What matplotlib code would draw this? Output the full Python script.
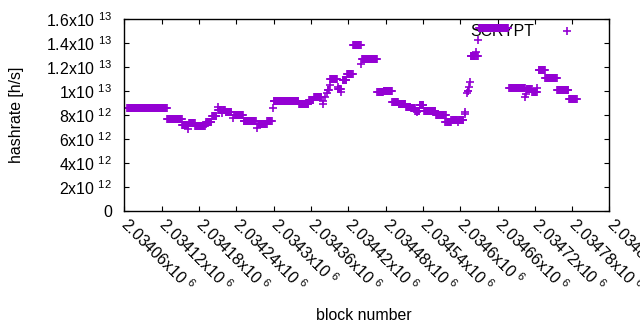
import numpy as np
import matplotlib
matplotlib.use('Agg')
import matplotlib.pyplot as plt
from matplotlib.ticker import FuncFormatter, MultipleLocator

plt.rcParams['font.family'] = ['Liberation Sans', 'DejaVu Sans']
plt.rcParams['mathtext.fontset'] = 'custom'
plt.rcParams['mathtext.rm'] = 'Liberation Sans'
plt.rcParams['mathtext.it'] = 'Liberation Sans:italic'

# runs of blocks sharing one hashrate (units of 1e12 h/s)
run_start = [2034065, 2034129, 2034153, 2034164, 2034174, 2034192, 2034201, 2034211,
             2034218, 2034223, 2034237, 2034252, 2034275, 2034290, 2034300, 2034341,
             2034357, 2034365, 2034387, 2034391, 2034405, 2034411, 2034418, 2034428,
             2034442, 2034467, 2034477, 2034491, 2034501, 2034513, 2034521, 2034528,
             2034532, 2034535, 2034542, 2034561, 2034576, 2034578, 2034586, 2034598,
             2034612, 2034617, 2034626, 2034631, 2034679, 2034707, 2034716, 2034726,
             2034737, 2034756, 2034775]
run_end = [2034128, 2034152, 2034162, 2034173, 2034189, 2034200, 2034208, 2034216,
           2034222, 2034232, 2034251, 2034271, 2034289, 2034297, 2034340, 2034356,
           2034364, 2034377, 2034389, 2034402, 2034407, 2034417, 2034427, 2034440,
           2034466, 2034476, 2034490, 2034500, 2034512, 2034520, 2034527, 2034530,
           2034534, 2034541, 2034560, 2034574, 2034577, 2034585, 2034596, 2034605,
           2034613, 2034624, 2034628, 2034677, 2034704, 2034715, 2034723, 2034736,
           2034755, 2034774, 2034787]
run_rate = [8.57, 7.65, 7.15, 7.37, 7.07, 7.40, 7.93, 8.43,
            8.43, 8.24, 7.99, 7.49, 7.24, 7.51, 9.18, 8.93,
            9.27, 9.54, 10.10, 11.00, 10.16, 10.93, 11.41, 13.85,
            12.66, 9.91, 10.02, 9.07, 8.93, 8.66, 8.57, 8.37,
            8.37, 8.82, 8.37, 7.99, 7.99, 7.40, 7.60, 7.60,
            10.04, 12.96, 12.96, 15.25, 10.24, 10.20, 9.92, 11.77,
            11.08, 10.10, 9.38]

# single blocks
single_block = [2034163, 2034191, 2034210, 2034217, 2034235, 2034274, 2034299, 2034379,
                2034380, 2034383, 2034386, 2034390, 2034403, 2034404, 2034408, 2034409,
                2034441, 2034531, 2034575, 2034597, 2034607, 2034608, 2034611, 2034614,
                2034615, 2034625, 2034629, 2034705, 2034706, 2034724]
single_rate = [6.85, 7.24, 8.70, 8.15, 7.74, 6.90, 8.57, 8.93,
               9.20, 9.54, 9.82, 10.50, 10.16, 10.38, 9.96, 10.16,
               12.25, 8.24, 7.43, 7.40, 8.07, 8.24, 9.88, 10.33,
               10.80, 13.25, 14.27, 9.54, 9.75, 10.30]

blocks = []
rates = []
for s, e, r in zip(run_start, run_end, run_rate):
    for b in range(s, e + 1):
        blocks.append(b)
        rates.append(r)
blocks += single_block
rates += single_rate
blocks = np.array(blocks)
rates = np.array(rates) * 1e12


def fmt_y(v, pos):
    if abs(v) < 1:
        return '0'
    if v < 0:
        return ''
    e = int(np.floor(np.log10(v) + 1e-9))
    m = v / 10**e
    return '%gx10 $^{%d}$' % (round(m, 3), e)


def fmt_x(v, pos):
    return '%gx10 $^{6}$' % (round(v) / 1e6)


fig, ax = plt.subplots(figsize=(6.4, 3.3), dpi=100)
fig.subplots_adjust(left=0.1942, right=0.9523, bottom=0.3606, top=0.9415)

ax.plot(blocks, rates, linestyle='none', marker='+', color='#9400d3',
        markersize=5.3, markeredgewidth=1.2, label='SCRYPT', zorder=2)

ax.set_xlim(2034060, 2034840)
ax.set_ylim(0, 1.6e13)
ax.xaxis.set_major_locator(MultipleLocator(60))
ax.yaxis.set_major_locator(MultipleLocator(2e12))
ax.xaxis.set_major_formatter(FuncFormatter(fmt_x))
ax.yaxis.set_major_formatter(FuncFormatter(fmt_y))
ax.tick_params(direction='in', length=3.5, width=0.8, top=True, right=True,
               labelsize=11.4, colors='black')
ax.tick_params(axis='y', pad=9)
ax.tick_params(axis='x', pad=7)
plt.setp(ax.get_xticklabels(), rotation=-45, ha='left', va='center',
         rotation_mode='anchor')
for sp in ax.spines.values():
    sp.set_linewidth(1.0)

fig.text(364 / 640, 1 - 316 / 330, 'block number', ha='center', va='center', fontsize=11.4)
fig.text(17 / 640, 1 - 114.5 / 330, 'hashrate [h/s]', ha='center', va='center',
         rotation=90, fontsize=11.4)

leg = ax.legend(loc='center right', bbox_to_anchor=(0.9615, 0.935), frameon=False,
                markerfirst=False, handlelength=3, handletextpad=0.55,
                borderpad=0, borderaxespad=0, fontsize=11.4)
leg.set_zorder(1)

fig.savefig('out.png', dpi=100)
